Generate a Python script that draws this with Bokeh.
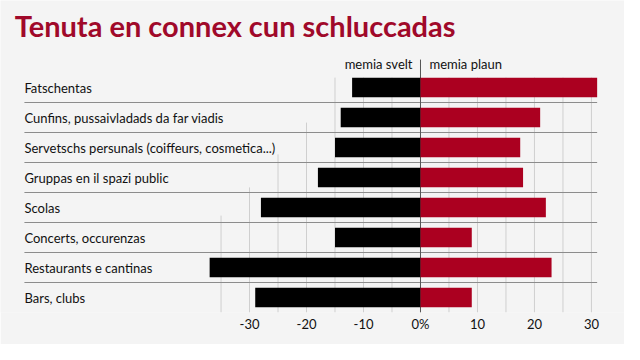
import numpy as np
from bokeh.plotting import figure
from bokeh.models import Range1d, FixedTicker, Label, ColumnDataSource
from bokeh.core.properties import value
from bokeh.embed import file_html
from bokeh.resources import INLINE

# ---- data ----
categories = [
    "Fatschentas",
    "Cunfins, pussaivladads da far viadis",
    "Servetschs persunals (coiffeurs, cosmetica...)",
    "Gruppas en il spazi public",
    "Scolas",
    "Concerts, occurenzas",
    "Restaurants e cantinas",
    "Bars, clubs",
]
memia_svelt = [-12, -14, -15, -18, -28, -15, -37, -29]
memia_plaun = [31, 21, 17.5, 18, 22, 9, 23, 9]
tick_values = [-30, -20, -10, 0, 10, 20, 30]
tick_labels = {-30: "-30", -20: "-20", -10: "-10", 0: "0%", 10: "10", 20: "20", 30: "30"}
grid_values = [-35, -30, -25, -20, -15, -10, -5, 0, 5, 10, 15, 20, 25, 30]
grid_top = [-4.27, -3.33, -2.23, -1.17, 0.33, 0.33, 0.33, 0.33, 0.33, 0.33, 0.33, 0.33, 0.33, 0.33]

TITLE = "Tenuta en connex cun schluccadas"
HEAD_L = "memia svelt"
HEAD_R = "memia plaun"

FONT = "Lato"
RED = "#ab0020"
BG = "#f4f4f4"

rows = -np.arange(len(categories), dtype=float)
x_lo, x_hi = -73.7, 35.8
y_lo, y_hi = -7.5, 2.9
label_x = -69.5
sep_right = 31.0

p = figure(width=624, height=344,
           x_range=Range1d(x_lo, x_hi), y_range=Range1d(y_lo, y_hi),
           output_backend="svg", toolbar_location=None,
           min_border_left=0, min_border_right=0, min_border_top=0, min_border_bottom=32,
           y_axis_location=None,
           background_fill_color=BG, border_fill_color=BG)
p.outline_line_color = None
p.xgrid.visible = False
p.ygrid.visible = False

# vertical grid lines (cascading starts)
p.segment(x0=grid_values, x1=grid_values, y0=grid_top, y1=[y_lo] * len(grid_values),
          line_color="#cfcfcf", line_width=1)

# row separators
sep_y = (rows[:-1] + rows[1:]) / 2
p.segment(x0=[label_x] * len(sep_y), x1=[sep_right] * len(sep_y), y0=sep_y, y1=sep_y,
          line_color="#8c8c8c", line_width=1)

# zero line
p.segment(x0=[0], x1=[0], y0=[0.93], y1=[y_lo], line_color="#555555", line_width=1)

src = ColumnDataSource(dict(y=rows, svelt=memia_svelt, plaun=memia_plaun, cat=categories,
                            zero=[0] * len(categories), lx=[label_x] * len(categories)))
p.hbar(y="y", left="svelt", right="zero", height=0.65, source=src, fill_color="#000000", line_color=None)
p.hbar(y="y", left="zero", right="plaun", height=0.65, source=src, fill_color=RED, line_color=None)

p.text(x="lx", y="y", text="cat", source=src, text_font=value(FONT), text_font_size="13px",
       text_color="#111111", text_baseline="middle", text_align="left")

p.add_layout(Label(x=0, y=0.77, text=HEAD_L, x_offset=-8, text_align="right", text_baseline="middle",
                   text_font=FONT, text_font_size="13px", text_color="#111111"))
p.add_layout(Label(x=0, y=0.77, text=HEAD_R, x_offset=9, text_align="left", text_baseline="middle",
                   text_font=FONT, text_font_size="13px", text_color="#111111"))
p.add_layout(Label(x=-71.2, y=2.07, text=TITLE, text_align="left", text_baseline="middle",
                   text_font=FONT, text_font_size="29px", text_font_style="bold", text_color="#a0092a"))

ax = p.xaxis[0]
ax.ticker = FixedTicker(ticks=tick_values)
ax.major_label_overrides = tick_labels
ax.axis_line_color = None
ax.major_tick_line_color = None
ax.minor_tick_line_color = None
ax.major_tick_out = 0
ax.major_tick_in = 0
ax.major_label_standoff = 3
ax.major_label_text_font = FONT
ax.major_label_text_font_size = "13px"
ax.major_label_text_color = "#111111"

open("out.html", "w").write(file_html(p, INLINE))
